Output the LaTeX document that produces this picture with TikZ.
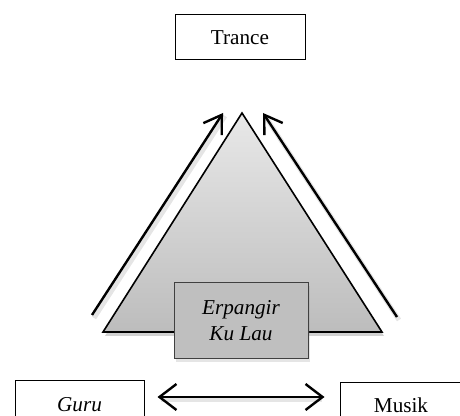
\documentclass[tikz,border=0pt]{standalone}
\usepackage{fontspec}
\setmainfont{Liberation Serif}
\usetikzlibrary{arrows.meta,shadows}
\begin{document}
\begin{tikzpicture}[x=0.5pt,y=-0.5pt,
  lbl/.style={font=\fontsize{10.6}{13}\selectfont},
  plainbox/.style={draw=black,line width=0.5pt,fill=white,inner sep=0pt,lbl},
  barb/.style={-{Straight Barb[length=8.5pt,width=11pt,line width=1.2pt]},line width=1.2pt},
  dbarb/.style={{Straight Barb[length=8.5pt,width=13pt,line width=1.2pt]}-{Straight Barb[length=8.5pt,width=13pt,line width=1.2pt]},line width=1.2pt},
  shadowline/.style={draw=black,opacity=0.1,line width=2.4pt}
]
\useasboundingbox (0,0) rectangle (460,416);
\clip (0,0) rectangle (460,416);
\fill[white] (0,0) rectangle (460,416);

% triangle
\coordinate (apex) at (242,113);
\coordinate (bl) at (103,332);
\coordinate (br) at (382,332);
\fill[black,opacity=0.18] ([shift={(2,4)}]apex) -- ([shift={(2,4)}]br) -- ([shift={(2,4)}]bl) -- cycle;
\shade[top color=gray!18,bottom color=gray!52] (apex) -- (br) -- (bl) -- cycle;
\draw[line width=0.8pt,line join=miter] (apex) -- (br) -- (bl) -- cycle;

% side arrows
\coordinate (la0) at (92,315);
\coordinate (la1) at (223,113);
\coordinate (ra0) at (397,317);
\coordinate (ra1) at (263,113);
\draw[shadowline] ([shift={(2,3)}]la0) -- ([shift={(2,3)}]la1);
\draw[shadowline] ([shift={(2,3)}]ra0) -- ([shift={(2,3)}]ra1);
\draw[barb] (la0) -- (la1);
\draw[barb] (ra0) -- (ra1);

% nodes
\node[plainbox,minimum width=65pt,minimum height=22.5pt] (trance) at (240,37.5) {Trance};
\node[draw=black!75,line width=0.5pt,fill=gray!50,inner sep=0pt,lbl,align=center,
      minimum width=67pt,minimum height=38pt,
      drop shadow={opacity=0.2,shadow xshift=1pt,shadow yshift=-1.5pt}]
  (erp) at (241,321) {\itshape Erpangir\\\itshape Ku Lau};
\node[plainbox,minimum width=64.5pt,minimum height=25pt] (guru) at (79.5,405) {\itshape Guru};
\node[plainbox,minimum width=61pt,minimum height=23pt] (musik) at (401,405) {Musik};

% double arrow
\draw[shadowline,shorten <=8pt,shorten >=9pt] ([yshift=2.6pt]guru.east) -- ([yshift=2.6pt]musik.west);
\draw[dbarb,shorten <=6.5pt,shorten >=7.5pt] ([yshift=4pt]guru.east) -- ([yshift=4pt]musik.west);
\end{tikzpicture}
\end{document}
